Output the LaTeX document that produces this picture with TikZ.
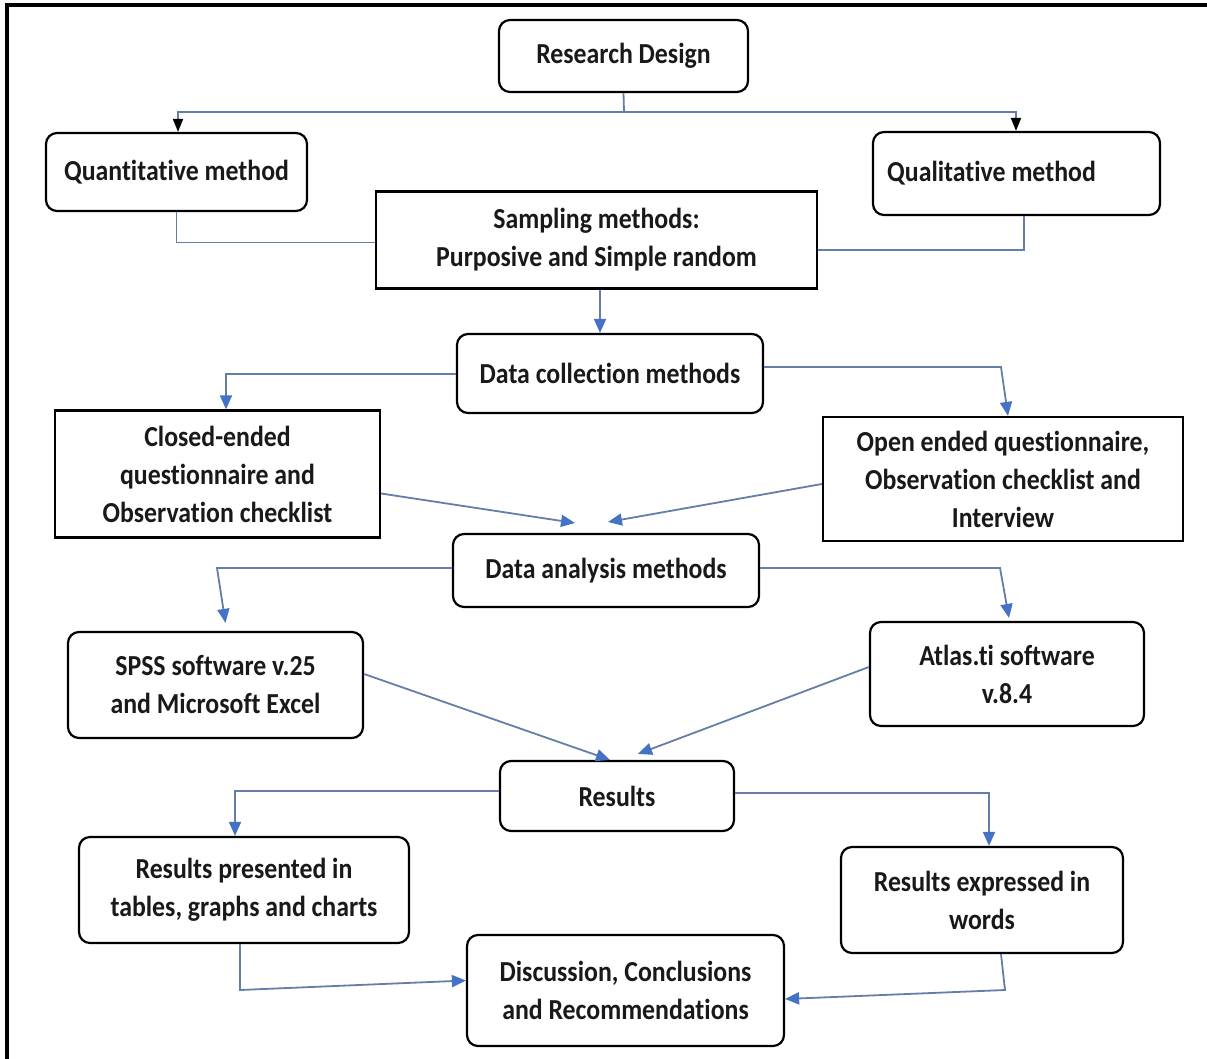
\documentclass[tikz,border=0pt]{standalone}
\usepackage{fontspec}
\setmainfont{Carlito}[FakeStretch=0.89, Ligatures=NoCommon]
\usetikzlibrary{arrows.meta,calc}
\definecolor{conncol}{RGB}{100,126,168}
\definecolor{headcol}{RGB}{68,114,196}
\definecolor{txtcol}{RGB}{25,25,25}
\tikzset{
  boxbase/.style={draw=black, line width=2.2pt, fill=white, text=txtcol,
    font=\fontsize{29}{38}\selectfont\bfseries, align=center, inner sep=0pt},
  rbox/.style={boxbase, rounded corners=11pt},
  sbox/.style={boxbase},
  conn/.style={draw=conncol, line width=1.8pt},
  arr/.style={conn, -{Triangle[length=14pt,width=12pt,color=headcol]}},
  blackarr/.style={conn, -{Triangle[length=13pt,width=10pt,color=black]}},
}
\begin{document}
\begin{tikzpicture}[x=1pt,y=-1pt]
\useasboundingbox (0,0) rectangle (1207,1059);
% frame (left and top edges visible)
\draw[line width=4pt, black] (6.5,1062) -- (6.5,5) -- (1210,5);

% nodes
\node[rbox, minimum width=249pt, minimum height=72pt] (rd) at (623.5,56) {Research Design};
\node[rbox, minimum width=261pt, minimum height=78pt] (quant) at (176.5,172) {Quantitative method};
\node[rbox, minimum width=287pt, minimum height=83pt] (qual) at (1016.5,173.5) {Qualitative method\hspace*{50pt}};
\node[sbox, minimum width=441pt, minimum height=97pt] (samp) at (596.5,240) {Sampling methods:\\Purposive and Simple random};
\node[rbox, minimum width=306pt, minimum height=79pt] (dcol) at (610,373.5) {Data collection methods};
\node[sbox, minimum width=325pt, minimum height=127pt] (closed) at (217.5,474) {Closed-ended\\questionnaire and\\Observation checklist};
\node[sbox, minimum width=360pt, minimum height=124pt] (open) at (1003,479) {Open ended questionnaire,\\Observation checklist and\\Interview};
\node[rbox, minimum width=306pt, minimum height=73pt] (dana) at (606,570.5) {Data analysis methods};
\node[rbox, minimum width=295pt, minimum height=106pt] (spss) at (215.5,685) {SPSS software v.25\\and Microsoft Excel};
\node[rbox, minimum width=274pt, minimum height=104pt] (atlas) at (1007,674) {Atlas.ti software\\v.8.4};
\node[rbox, minimum width=234pt, minimum height=70pt] (res) at (617,796) {Results};
\node[rbox, minimum width=330pt, minimum height=106pt] (rpres) at (244,890) {Results presented in\\tables, graphs and charts};
\node[rbox, minimum width=282pt, minimum height=106pt] (rexp) at (982,900) {Results expressed in\\words};
\node[rbox, minimum width=317pt, minimum height=111pt] (disc) at (625.5,990.5) {Discussion, Conclusions\\and Recommendations};

% helper coordinates
\coordinate (j1) at (624,112);
\coordinate (ql) at (178,112);
\coordinate (qr) at (1016,112);
\coordinate (c1) at (226,374);
\coordinate (c2) at (1001,367);
\coordinate (m1) at (575,523);
\coordinate (m2) at (608,522);
\coordinate (a1) at (217,568);
\coordinate (a2) at (1000,568);
\coordinate (r1) at (235,791);
\coordinate (r2) at (989,793);
\coordinate (d1) at (240,990);
\coordinate (d2) at (1005,990);

% connectors
\draw[conn] (rd.south) -- (j1);
\draw[blackarr] (j1) -- (ql) -- (ql |- quant.north);
\draw[blackarr] (j1) -- (qr) -- (qr |- qual.north);
\draw[conn] (quant.south) |- ([yshift=-2.5pt]samp.west);
\draw[conn] ([xshift=7.5pt]qual.south) |- ([yshift=-10pt]samp.east);
\draw[arr] ([xshift=3.5pt]samp.south) -- ([xshift=3.5pt]samp.south |- dcol.north);
\draw[arr] ([yshift=-0.5pt]dcol.west) -- (c1) -- (c1 |- closed.north);
\draw[arr] ([yshift=6.5pt]dcol.east) -- (c2) -- ([xshift=5pt]open.north);
\draw[arr] ([yshift=-19.5pt]closed.east) -- (m1);
\draw[arr] ([yshift=-5pt]open.west) -- (m2);
\draw[arr] ([yshift=2.5pt]dana.west) -- (a1) -- ([xshift=10pt,yshift=8pt]spss.north);
\draw[arr] ([yshift=2.5pt]dana.east) -- (a2) -- ([xshift=2pt,yshift=3pt]atlas.north);
\draw[arr] ([yshift=11pt]spss.east) -- ([xshift=-7pt]res.north);
\draw[arr] ([yshift=7pt]atlas.west) -- ([xshift=21pt,yshift=6pt]res.north);
\draw[arr] ([yshift=5pt]res.west) -- (r1) -- (r1 |- rpres.north);
\draw[arr] ([yshift=3pt]res.east) -- (r2) -- (r2 |- rexp.north);
\draw[arr] ([xshift=-4pt]rpres.south) -- (d1) -- ([yshift=10pt]disc.west);
\draw[arr] ([xshift=19pt]rexp.south) -- (d2) -- ([yshift=-8.5pt]disc.east);
\end{tikzpicture}
\end{document}
